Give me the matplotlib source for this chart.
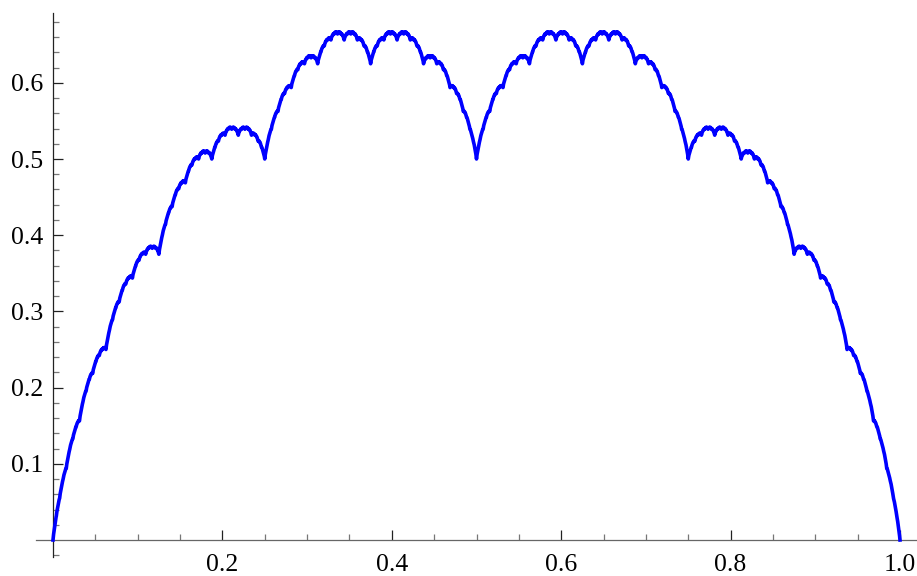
import numpy as np
import matplotlib
matplotlib.use('Agg')
import matplotlib.pyplot as plt
from matplotlib.ticker import FixedLocator, FixedFormatter

# Curva de Takagi (blancmange): parametros de la grafica
n_muestras = 4097
n_terminos = 20
x = np.linspace(0.0, 1.0, n_muestras)

# ticks
x_mayores = [0.2, 0.4, 0.6, 0.8, 1.0]
x_etiquetas = ['0.2', '0.4', '0.6', '0.8', '1.0']
x_menores = [0.05, 0.1, 0.15, 0.25, 0.3, 0.35, 0.45, 0.5, 0.55, 0.65, 0.7, 0.75, 0.85, 0.9, 0.95]
y_mayores = [0.1, 0.2, 0.3, 0.4, 0.5, 0.6]
y_etiquetas = ['0.1', '0.2', '0.3', '0.4', '0.5', '0.6']
y_menores = [-0.02, 0.02, 0.04, 0.06, 0.08, 0.12, 0.14, 0.16, 0.18, 0.22, 0.24, 0.26, 0.28,
             0.32, 0.34, 0.36, 0.38, 0.42, 0.44, 0.46, 0.48, 0.52, 0.54, 0.56, 0.58,
             0.62, 0.64, 0.66, 0.68]

# funcion de Takagi: suma de s(2^n x)/2^n
def s(v):
    return np.abs(v - np.round(v))

y = np.zeros_like(x)
for n in range(n_terminos):
    y += s(2.0**n * x) / 2.0**n

plt.rcParams['font.family'] = ['Liberation Serif', 'DejaVu Serif']

fig = plt.figure(figsize=(9.17, 5.76), dpi=100)
ax = fig.add_axes([0, 0, 1, 1])
ax.plot(x, y, color=(0, 0, 1), lw=2.6, solid_joinstyle='round', clip_on=False, zorder=3)

ax.set_xlim(-53/847, (917-53)/847)
ax.set_ylim(-(576-540)/762, 540/762)

for lado in ['top', 'right']:
    ax.spines[lado].set_visible(False)
ax.spines['left'].set_position(('data', 0))
ax.spines['bottom'].set_position(('data', 0))
ax.spines['left'].set_bounds(-0.022, 0.692)
ax.spines['bottom'].set_bounds(-0.02, 1.05)
ax.spines['left'].set_color('#222222')
ax.spines['bottom'].set_color('#666666')
ax.spines['left'].set_linewidth(0.9)
ax.spines['bottom'].set_linewidth(0.9)

ax.xaxis.set_major_locator(FixedLocator(x_mayores))
ax.xaxis.set_major_formatter(FixedFormatter(x_etiquetas))
ax.xaxis.set_minor_locator(FixedLocator(x_menores))
ax.yaxis.set_major_locator(FixedLocator(y_mayores))
ax.yaxis.set_major_formatter(FixedFormatter(y_etiquetas))
ax.yaxis.set_minor_locator(FixedLocator(y_menores))

ax.tick_params(which='major', direction='in', length=7.5, width=0.9, color='#222222',
               labelsize=18.5)
ax.tick_params(which='minor', direction='in', length=4, width=0.9, color='#777777')
ax.tick_params(axis='x', which='major', pad=10)
ax.tick_params(axis='y', which='major', pad=7)

fig.savefig('out.png', dpi=100)
plt.close()
